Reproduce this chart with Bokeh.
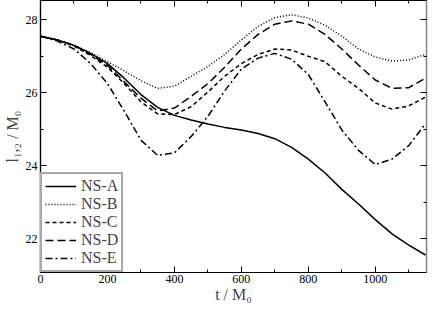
from bokeh.plotting import figure
from bokeh.models import LinearAxis, SingleIntervalTicker, Range1d, Legend, LegendItem
from bokeh.embed import file_html
from bokeh.resources import INLINE

t = [0, 50, 100, 150, 200, 250, 300, 350, 400, 450, 500, 550, 600, 650, 700,
     750, 800, 850, 900, 950, 1000, 1050, 1100, 1150]

ns_a = [27.55, 27.45, 27.30, 27.08, 26.80, 26.40, 25.95, 25.60, 25.38, 25.25, 25.14, 25.05,
        24.98, 24.88, 24.74, 24.50, 24.18, 23.80, 23.35, 22.95, 22.52, 22.13, 21.82, 21.55]
ns_b = [27.55, 27.45, 27.30, 27.10, 26.85, 26.60, 26.33, 26.12, 26.18, 26.45, 26.72, 27.05,
        27.45, 27.82, 28.06, 28.14, 28.05, 27.85, 27.55, 27.20, 26.98, 26.87, 26.90, 27.05]
ns_c = [27.55, 27.45, 27.28, 27.02, 26.70, 26.25, 25.75, 25.42, 25.40, 25.62, 26.02, 26.45,
        26.80, 27.05, 27.20, 27.17, 27.00, 26.85, 26.45, 26.12, 25.72, 25.55, 25.64, 25.88]
ns_d = [27.55, 27.45, 27.30, 27.05, 26.75, 26.30, 25.85, 25.50, 25.58, 25.90, 26.25, 26.70,
        27.20, 27.60, 27.88, 27.97, 27.88, 27.60, 27.20, 26.76, 26.35, 26.12, 26.14, 26.40]
ns_e = [27.55, 27.42, 27.20, 26.80, 26.25, 25.50, 24.70, 24.28, 24.35, 24.80, 25.35, 26.05,
        26.65, 26.95, 27.08, 26.92, 26.50, 25.75, 24.98, 24.42, 24.03, 24.18, 24.55, 25.15]

names = ["NS-A", "NS-B", "NS-C", "NS-D", "NS-E"]
series = [ns_a, ns_b, ns_c, ns_d, ns_e]
dashes = ["solid", "1 2", "4 3", "8 4", "7 3 2 3"]
x_title = "t / M\u2080"
y_title = "l\u2081,\u2082 / M\u2080"

FONT = "Liberation Serif"

p = figure(width=428, height=305, output_backend="svg", toolbar_location=None,
           x_range=Range1d(0, 1153), y_range=Range1d(21.07, 28.53),
           min_border_left=28, min_border_right=2, min_border_top=0, min_border_bottom=10)
p.xgrid.visible = False
p.ygrid.visible = False
p.outline_line_color = "black"
p.outline_line_width = 1.2

renderers = []
for name, ys, d in zip(names, series, dashes):
    r = p.line(t, ys, line_color="black", line_width=1.5, line_dash=d)
    renderers.append(r)

def style_axis(ax, labels=True):
    ax.axis_line_color = "black"
    ax.axis_line_width = 1.2
    ax.major_tick_in = 6
    ax.major_tick_out = 0
    ax.minor_tick_in = 3
    ax.minor_tick_out = 0
    ax.major_tick_line_color = "black"
    ax.minor_tick_line_color = "black"
    ax.major_label_text_font = FONT
    ax.major_label_text_font_size = "12px"
    ax.major_label_text_color = "black" if labels else None
    ax.major_label_text_line_height = 1.0
    ax.major_label_standoff = 2
    ax.axis_label_text_font = FONT
    ax.axis_label_text_font_size = "16px"
    ax.axis_label_text_font_style = "normal"
    ax.axis_label_text_line_height = 1.0
    ax.axis_label_standoff = 0

p.xaxis.ticker = SingleIntervalTicker(interval=200, num_minor_ticks=2)
p.yaxis.ticker = SingleIntervalTicker(interval=2, num_minor_ticks=2)
style_axis(p.xaxis[0])
style_axis(p.yaxis[0])
p.yaxis.major_label_standoff = 3
p.yaxis.axis_label_standoff = 2
p.xaxis.axis_label = x_title
p.yaxis.axis_label = y_title

top = LinearAxis(ticker=SingleIntervalTicker(interval=200, num_minor_ticks=2))
style_axis(top, labels=False)
top.major_label_text_font_size = "0px"
top.major_label_standoff = 0
p.add_layout(top, "above")
right = LinearAxis(ticker=SingleIntervalTicker(interval=2, num_minor_ticks=2))
style_axis(right, labels=False)
right.major_label_text_font_size = "0px"
right.major_label_standoff = 0
right.axis_line_color = "#888888"
p.add_layout(right, "right")

legend = Legend(items=[LegendItem(label=n, renderers=[r]) for n, r in zip(names, renderers)],
                location="bottom_left")
legend.margin = 0
legend.padding = 3
legend.spacing = -2
legend.border_line_color = "#555555"
legend.border_line_width = 2
legend.label_text_font = FONT
legend.label_text_font_size = "16px"
legend.label_text_line_height = 1.0
legend.label_height = 14
legend.glyph_height = 14
legend.glyph_width = 31
legend.label_standoff = 5
legend.background_fill_alpha = 1
p.add_layout(legend)

open("out.html", "w").write(file_html(p, INLINE))
